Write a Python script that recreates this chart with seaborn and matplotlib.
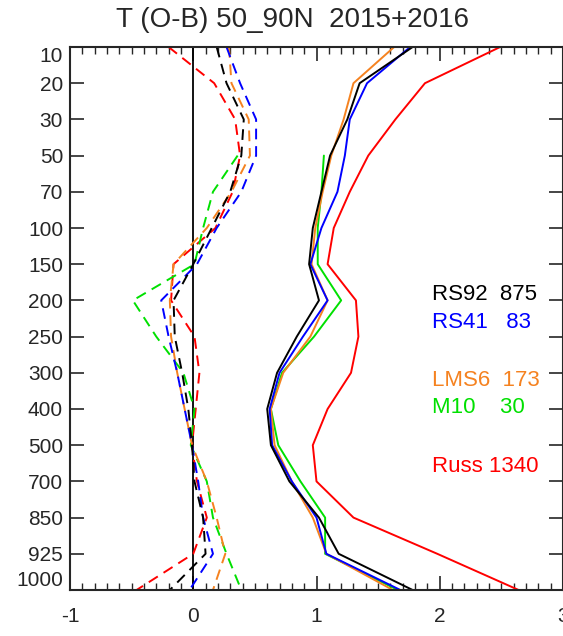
import numpy as np
import pandas as pd
import matplotlib
matplotlib.use("Agg")
import matplotlib.pyplot as plt
import seaborn as sns
from matplotlib.ticker import MultipleLocator

sns.set_style("ticks")
plt.rcParams['font.family'] = ['Liberation Sans', 'DejaVu Sans']
plt.rcParams['axes.unicode_minus'] = False

levels = ["10", "20", "30", "50", "70", "100", "150", "200", "250", "300",
          "400", "500", "700", "850", "925", "1000"]

# solid lines (std dev)
rs92_sd = [1.78, 1.35, 1.25, 1.11, 1.04, 0.97, 0.94, 1.02, 0.84, 0.68, 0.60, 0.63, 0.78, 1.02, 1.18, 1.78]
rs41_sd = [1.76, 1.41, 1.27, 1.23, 1.17, 1.04, 0.95, 1.09, 0.89, 0.70, 0.62, 0.64, 0.80, 1.00, 1.08, 1.68]
lms6_sd = [1.63, 1.30, 1.22, 1.12, 1.05, 0.99, 0.96, 1.09, 0.95, 0.73, 0.63, 0.66, 0.80, 0.97, 1.08, 1.62]
m10_sd = [np.nan, np.nan, np.nan, 1.06, 1.04, 1.01, 1.01, 1.20, 0.98, 0.72, 0.63, 0.69, 0.87, 1.07, 1.07, 1.66]
russ_sd = [2.49, 1.88, 1.64, 1.42, 1.27, 1.14, 1.09, 1.32, 1.34, 1.28, 1.09, 0.97, 1.00, 1.30, 1.98, 2.64]

# dashed lines (mean)
rs92_mn = [0.19, 0.27, 0.41, 0.39, 0.30, 0.15, 0.00, -0.16, -0.15, -0.09, -0.04, -0.01, 0.01, 0.08, 0.10, -0.19]
rs41_mn = [0.27, 0.38, 0.51, 0.51, 0.39, 0.19, 0.03, -0.26, -0.20, -0.13, -0.07, -0.01, 0.04, 0.08, 0.16, -0.03]
lms6_mn = [0.29, 0.31, 0.45, 0.46, 0.31, 0.11, -0.16, -0.19, -0.18, -0.13, -0.07, -0.01, 0.11, 0.19, 0.26, 0.16]
m10_mn = [np.nan, np.nan, np.nan, 0.36, 0.16, 0.08, 0.01, -0.49, -0.30, -0.08, 0.01, -0.02, 0.11, 0.16, 0.27, 0.39]
russ_mn = [-0.20, 0.17, 0.34, 0.38, 0.32, 0.18, -0.16, -0.18, 0.01, 0.05, 0.02, -0.01, 0.03, 0.11, 0.00, -0.46]

names = ["RS92", "RS41", "LMS6", "M10", "Russ"]
counts = ["875", "83", "173", "30", "1340"]
legend_labels = ["RS92  875", "RS41   83", "LMS6  173", "M10    30", "Russ 1340"]
colors = ["#000000", "#0000FF", "#F58220", "#00E000", "#FF0000"]
legend_y = [6.85, 7.6, 9.2, 9.95, 11.6]

sds = [rs92_sd, rs41_sd, lms6_sd, m10_sd, russ_sd]
mns = [rs92_mn, rs41_mn, lms6_mn, m10_mn, russ_mn]

fig = plt.figure(figsize=(5.63, 6.36), dpi=100)
ax = fig.add_axes([70 / 563, 46 / 636, 493 / 563, 543 / 636])

idx = np.arange(len(levels))
ax.axvline(0, color="black", lw=1.3, zorder=1)

order = [4, 3, 2, 1, 0]
for k in order:
    df = pd.DataFrame({"x": mns[k], "y": idx}).dropna()
    sns.lineplot(data=df, x="x", y="y", sort=False, estimator=None, ax=ax,
                 color=colors[k], lw=1.4, dashes=False, linestyle=(0, (5.5, 3.5)),
                 orient="y")
for k in order:
    df = pd.DataFrame({"x": sds[k], "y": idx}).dropna()
    sns.lineplot(data=df, x="x", y="y", sort=False, estimator=None, ax=ax,
                 color=colors[k], lw=1.4, orient="y")

for k in range(5):
    ax.text(1.94, legend_y[k], legend_labels[k], color=colors[k], fontsize=16,
            va="center", ha="left")

ax.set_xlim(-1, 3)
ax.set_ylim(len(levels) - 1, 0)
ax.set_yticks(idx)
ax.set_yticklabels(levels, fontsize=15)
labs = ax.get_yticklabels()
labs[0].set_va("top")
labs[-1].set_va("bottom")
ax.xaxis.set_major_locator(MultipleLocator(1))
ax.xaxis.set_minor_locator(MultipleLocator(0.1))
ax.tick_params(axis="x", which="major", direction="in", length=10, width=1.2,
               top=True, bottom=True, labelsize=15, pad=12)
ax.tick_params(axis="x", which="minor", direction="in", length=5, width=1.0,
               top=True, bottom=True)
ax.tick_params(axis="y", which="major", direction="in", length=10, width=1.2,
               left=True, right=True, labelsize=15, pad=5)
ax.set_xlabel("")
ax.set_ylabel("")
for s in ax.spines.values():
    s.set_linewidth(1.5)
    s.set_visible(True)
if ax.get_legend() is not None:
    ax.get_legend().remove()

fig.text(292 / 563, 1 - 20 / 636, "T (O-B) 50_90N  2015+2016",
         ha="center", va="center", fontsize=20)

fig.savefig("out.png", dpi=100)
